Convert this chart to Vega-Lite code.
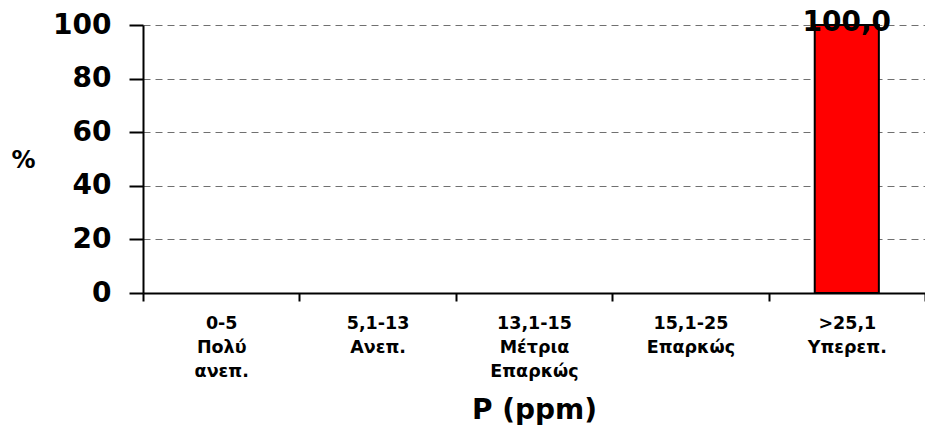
{
  "$schema": "https://vega.github.io/schema/vega-lite/v6.json",
  "width": 782,
  "height": 268,
  "autosize": "none",
  "padding": {"left": 143, "top": 25, "right": 0, "bottom": 139},
  "background": "white",
  "config": {
    "view": {"stroke": null},
    "locale": {"number": {"decimal": ",", "thousands": ".", "grouping": [3], "currency": ["", " €"]}},
    "font": "DejaVu Sans"
  },
  "data": {
    "values": [
      {"cat": "0-5|Πολύ|ανεπ.", "pct": 0},
      {"cat": "5,1-13|Ανεπ.", "pct": 0},
      {"cat": "13,1-15|Μέτρια|Επαρκώς", "pct": 0},
      {"cat": "15,1-25|Επαρκώς", "pct": 0},
      {"cat": ">25,1|Υπερεπ.", "pct": 100}
    ]
  },
  "encoding": {
    "x": {
      "field": "cat",
      "type": "nominal",
      "sort": null,
      "scale": {"domain": ["0-5|Πολύ|ανεπ.", "5,1-13|Ανεπ.", "13,1-15|Μέτρια|Επαρκώς", "15,1-25|Επαρκώς", ">25,1|Υπερεπ."], "paddingInner": 0, "paddingOuter": 0},
      "axis": {
        "title": "P (ppm)",
        "titleFont": "DejaVu Sans",
        "titleFontSize": 28,
        "titleFontWeight": "bold",
        "titleColor": "black",
        "titleBaseline": "middle",
        "titleY": 117,
        "labelExpr": "split(datum.label, '|')",
        "labelAngle": 0,
        "labelFont": "DejaVu Sans",
        "labelFontSize": 17.5,
        "labelFontWeight": "bold",
        "labelColor": "black",
        "labelLineHeight": 24,
        "labelBaseline": "top",
        "labelPadding": 13,
        "tickBand": "extent",
        "tickSize": 8,
        "tickWidth": 2,
        "tickColor": "black",
        "domainColor": "black",
        "domainWidth": 2,
        "grid": false
      }
    },
    "y": {
      "field": "pct",
      "type": "quantitative",
      "scale": {"domain": [0, 100], "nice": false},
      "axis": {
        "title": "%",
        "titleAngle": 0,
        "titleX": -120,
        "titleY": 135,
        "titleAlign": "center",
        "titleBaseline": "middle",
        "titleFont": "DejaVu Sans",
        "titleFontSize": 24,
        "titleFontWeight": "bold",
        "titleColor": "black",
        "values": [0, 20, 40, 60, 80, 100],
        "format": "d",
        "labelFont": "DejaVu Sans",
        "labelFontSize": 28,
        "labelFontWeight": "bold",
        "labelColor": "black",
        "labelPadding": 18,
        "tickSize": 14,
        "tickWidth": 2,
        "tickColor": "black",
        "domainColor": "black",
        "domainWidth": 2,
        "grid": true,
        "gridColor": "#707070",
        "gridWidth": 1,
        "gridDash": [7, 5]
      }
    }
  },
  "layer": [
    {
      "transform": [{"filter": "datum.pct > 0"}],
      "mark": {"type": "bar", "width": {"band": 0.41}, "fill": "#ff0000", "stroke": "black", "strokeWidth": 2}
    },
    {
      "transform": [{"filter": "datum.pct > 0"}],
      "mark": {"type": "text", "font": "DejaVu Sans", "fontSize": 28, "fontWeight": "bold", "color": "black", "baseline": "middle", "dy": -2},
      "encoding": {
        "text": {"field": "pct", "type": "quantitative", "format": ".1f"}
      }
    }
  ]
}
